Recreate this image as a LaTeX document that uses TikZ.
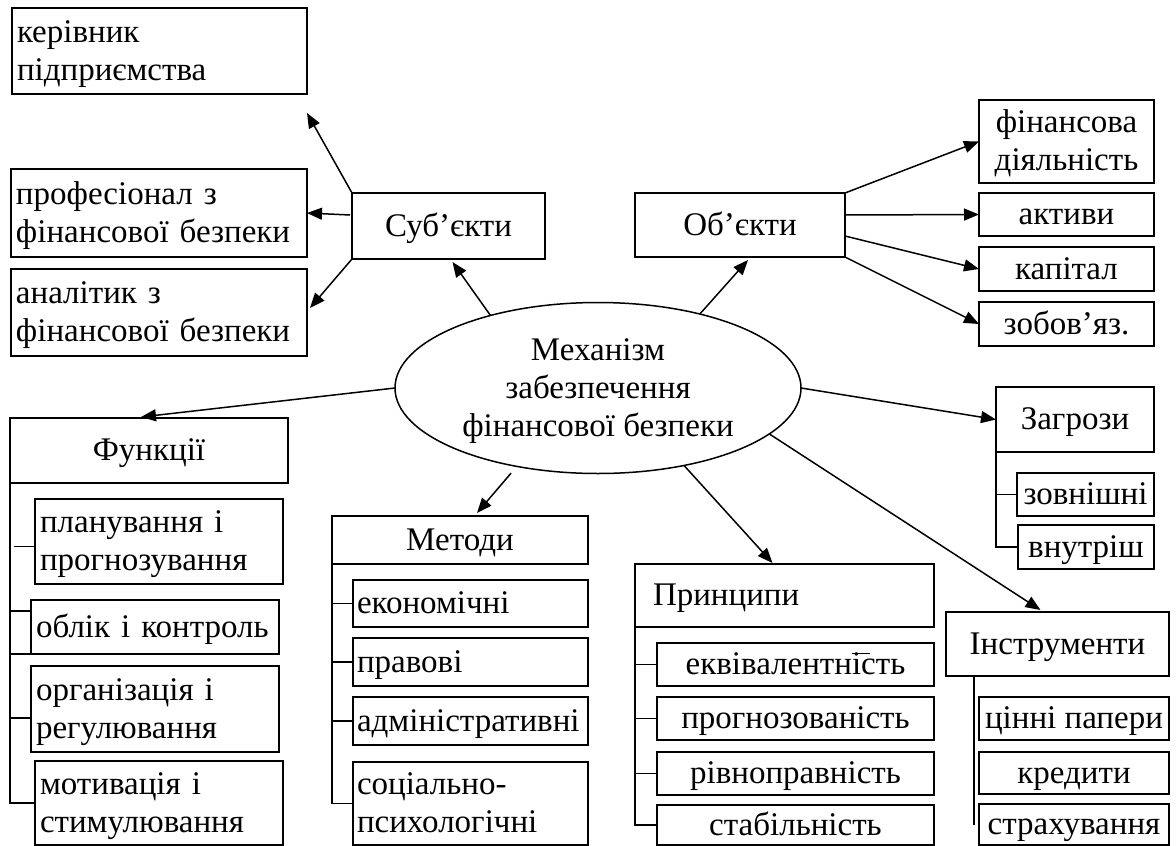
\documentclass[tikz,border=0pt]{standalone}
\usepackage{fontspec}
\setmainfont{Liberation Serif}
\usetikzlibrary{arrows.meta,calc,shapes.geometric}
% line strut: 29.4pt above the baseline, 8.6pt below (one 38pt line)
\newcommand\lnstrut{\rule[-8.6pt]{0pt}{38pt}}
% letter i with a stray bar over it
\newcommand\barredi{\rlap{\raisebox{21pt}{\rule{18pt}{1.4pt}}}і}

\begin{document}
\begin{tikzpicture}[x=1pt,y=-1pt,
  font=\fontsize{33}{38}\selectfont,
  every node/.style={inner sep=0pt, outer sep=0pt},
  box/.style={draw, line width=1.5pt, inner sep=0pt},
  lbox/.style={box, align=left, inner xsep=5pt, text width=#1},
  arr/.style={line width=1.5pt, -{Triangle[length=15pt,width=12pt]}},
  tree/.style={line width=1.5pt}]

\path[fill=white] (0,0) rectangle (1176,846);
\useasboundingbox (0,0) rectangle (1176,846);

% central ellipse
\node[box, ellipse, minimum width=406pt, minimum height=171pt, align=center] (ell) at (598,388)
  {\lnstrut Механізм\\\lnstrut забезпечення\\\lnstrut фінансової безпеки};

% subjects
\node[box, minimum width=193pt, minimum height=66pt] (sub) at (448.5,226) {\lnstrut Суб’єкти};
\node[lbox=285pt, minimum height=86pt] (ker) at (159.5,51) {\lnstrut керівник\\\lnstrut підприємства};
\node[lbox=286pt, minimum height=88pt] (prof) at (159,213) {\lnstrut професіонал з\\\lnstrut фінансової безпеки};
\node[lbox=286pt, minimum height=87pt] (anal) at (159,312.5) {\lnstrut аналітик з\\\lnstrut фінансової безпеки};

% objects
\node[box, minimum width=210pt, minimum height=64pt] (obj) at (740,225) {\lnstrut Об’єкти};
\node[box, minimum width=175pt, minimum height=83pt, align=center] (fin) at (1066.5,141.5) {\lnstrut фінансова\\\lnstrut діяльність};
\node[box, minimum width=175pt, minimum height=43pt] (akt) at (1066.5,214.5) {\lnstrut активи};
\node[box, minimum width=175pt, minimum height=44pt] (kap) at (1066.5,269) {\lnstrut капітал};
\node[box, minimum width=175pt, minimum height=44pt] (zob) at (1066.5,324) {\lnstrut зобов’яз.};

% threats
\node[box, minimum width=158pt, minimum height=65pt] (zag) at (1075,419.5) {\lnstrut Загрози};
\node[box, minimum width=137pt, minimum height=43pt] (zovn) at (1085.5,494.5) {\lnstrut зовнішні};
\node[box, minimum width=136pt, minimum height=44pt] (vnut) at (1086,547) {\lnstrut внутріш};

% functions
\node[box, minimum width=278pt, minimum height=65pt] (funk) at (149,450.5) {\lnstrut Функції};
\node[lbox=238pt, minimum height=85pt] (plan) at (159,541.5) {\lnstrut планування і\\\lnstrut прогнозування};
\node[lbox=238pt, minimum height=54pt] (oblik) at (155,627) {\lnstrut облік і контроль};
\node[lbox=238pt, minimum height=86pt] (org) at (155,709) {\lnstrut організація і\\\lnstrut регулювання};
\node[lbox=238pt, minimum height=84pt] (motiv) at (159,803) {\lnstrut мотивація і\\\lnstrut стимулювання};

% methods
\node[box, minimum width=256pt, minimum height=48pt] (met) at (460,540) {\lnstrut Методи};
\node[lbox=227pt, inner xsep=4pt, minimum height=47pt] (ekon) at (470.5,603.5) {\lnstrut економічні};
\node[lbox=227pt, inner xsep=4pt, minimum height=48pt] (prav) at (470.5,662) {\lnstrut правові};
\node[lbox=227pt, inner xsep=4pt, minimum height=48pt] (admin) at (470.5,721) {\lnstrut адміністративні};
\node[lbox=227pt, inner xsep=4pt, minimum height=83pt] (soc) at (470.5,803.5) {\lnstrut соціально-\\\lnstrut психологічні};

% principles
\node[lbox=263pt, inner xsep=18pt, minimum height=63pt] (princ) at (784.5,595.5) {\lnstrut Принципи};
\node[box, minimum width=277pt, minimum height=43pt] (ekv) at (795.5,664.5) {\lnstrut еквівалентн\barredi сть};
\node[box, minimum width=277pt, minimum height=43pt] (prog) at (795.5,718.5) {\lnstrut прогнозованість};
\node[box, minimum width=277pt, minimum height=43pt] (rivn) at (795.5,773.5) {\lnstrut рівноправність};
\node[box, minimum width=277pt, minimum height=40pt] (stab) at (795.5,825) {\lnstrut стабільність};

% instruments
\node[box, minimum width=223pt, minimum height=64pt] (instr) at (1057.5,644) {\lnstrut Інструменти};
\node[box, minimum width=190pt, minimum height=43pt] (cin) at (1074,718.5) {\lnstrut цінні папери};
\node[box, minimum width=190pt, minimum height=42pt] (kred) at (1074,773) {\lnstrut кредити};
\node[box, minimum width=190pt, minimum height=41pt] (strah) at (1074,824.5) {\lnstrut страхування};

% arrows around the subjects
\draw[arr] (sub.north west) -- ($(ker.south east)+(0,19)$);
\draw[arr] ($(sub.north west)+(-2,22)$) -- (prof.east);
\draw[arr] (sub.south west) -- ($(anal.north east)+(3,39)$);
\draw[arr] (ell.146) -- ($(sub.south)+(4,3)$);

% arrows around the objects
\draw[arr] (ell.36) -- ($(obj.south)+(8,3)$);
\draw[arr] (obj.north east) -- (fin.west);
\draw[arr] ($(obj.east)+(0,-10)$) -- (akt.west);
\draw[arr] ($(obj.east)+(0,11)$) -- (kap.west);
\draw[arr] (obj.south east) -- (zob.west);

% arrows to the lower groups
\draw[arr] (ell.east) -- (zag.west);
\draw[arr] (ell.-15) -- ($(instr.north)+(-17,-2)$);
\draw[arr] (ell.-42) -- ($(princ.north)+(-12,-1)$);
\draw[arr, shorten <=9pt] (ell.-136) -- ($(met.north)+(17,-3)$);
\draw[arr] (ell.west) -- ($(funk.north)+(-8,-1)$);

% tree lines
\draw[tree] (zag.south west) |- (vnut.west);
\draw[tree] (zag.south west |- zovn.west) -- (zovn.west);

\draw[tree] (princ.south west) |- (stab.west);
\foreach \n in {ekv,prog,rivn} \draw[tree] (princ.south west |- \n.west) -- (\n.west);

\draw[tree] (met.south west) |- (soc.west);
\foreach \n in {ekon,prav,admin} \draw[tree] (met.south west |- \n.west) -- (\n.west);

\draw[tree] (funk.south west) |- (motiv.west);
\draw[tree] ($(funk.south west |- plan.west)+(4,5)$) -- ($(plan.west)+(0,5)$);
\draw[tree] ($(funk.south west |- oblik.north west)+(0,11)$) -- ($(oblik.north west)+(0,11)$);
\draw[tree] (funk.south west |- oblik.south west) -- (oblik.south west);
\draw[tree] ($(funk.south west |- org.west)+(0,9)$) -- ($(org.west)+(0,9)$);

\draw[tree] ($(instr.south west)+(28,0)$) -- ($(strah.west)+(-5,0)$);
\end{tikzpicture}
\end{document}
